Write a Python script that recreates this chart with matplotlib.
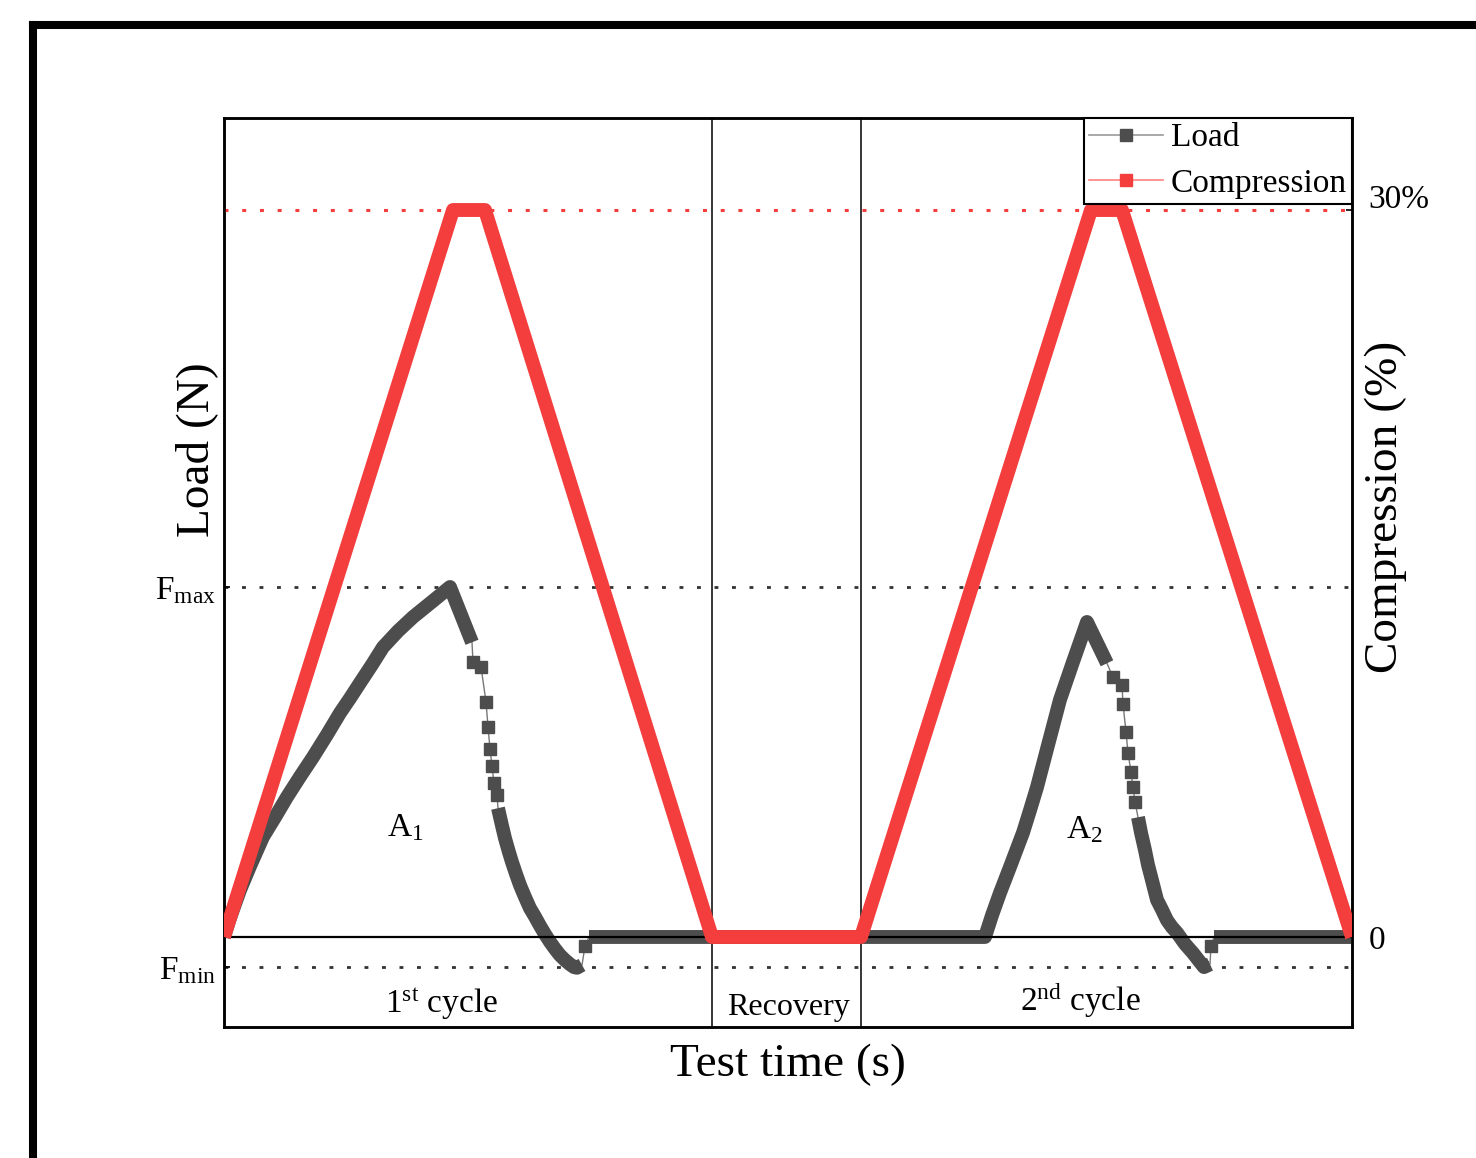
import numpy as np
import matplotlib.pyplot as plt
from matplotlib.lines import Line2D
from matplotlib.transforms import ScaledTranslation

plt.rcParams['font.family'] = ['Liberation Serif', 'DejaVu Serif']
plt.rcParams['mathtext.fontset'] = 'custom'
plt.rcParams['mathtext.rm'] = 'Liberation Serif'
plt.rcParams['mathtext.it'] = 'Liberation Serif:italic'

# compression programme (%), time in s
comp_t = [0.0, 22.9, 26.1, 48.8, 63.7, 86.7, 89.8, 112.8]
comp_pct = [0, 30, 30, 0, 0, 30, 30, 0]

# measured load (N), in pieces: D = densely sampled, S = sparse samples
rise1_t = [0.0, 0.6, 1.6, 2.6, 3.9, 5.1, 6.3, 7.6, 8.9, 10.3, 11.6, 12.6,
           13.6, 14.8, 15.9, 17.4, 18.9, 20.8, 22.6, 24.8]
rise1_n = [0.0, 2.7, 6.7, 10.1, 14.3, 17.1, 20.0, 22.9, 25.7, 28.9, 32.0,
           34.1, 36.3, 38.9, 41.4, 43.7, 45.7, 47.9, 50.0, 42.1]
drop1_t = [24.9, 25.7, 26.2, 26.4, 26.6, 26.8, 27.0, 27.3]
drop1_n = [39.3, 38.6, 33.6, 30.0, 26.9, 24.4, 22.0, 20.3]
tail1_t = [27.4, 27.8, 28.1, 28.5, 28.8, 29.2, 29.6, 30.1, 30.6, 31.1, 31.6,
           32.1, 32.6, 33.1, 33.6, 34.1, 34.6, 35.0, 35.3, 35.8]
tail1_n = [18.4, 15.9, 14.1, 12.1, 10.7, 9.0, 7.4, 5.7, 4.1, 2.9, 1.6,
           0.4, -0.7, -1.7, -2.6, -3.3, -3.9, -4.3, -4.4, -4.0]
step1_t = [36.1]
step1_n = [-1.3]
rise2_t = [36.5, 76.1, 76.8, 77.6, 78.6, 79.9, 80.6, 81.3, 82.4, 83.6, 84.9,
           86.3, 88.3]
rise2_n = [0.0, 0.0, 3.1, 6.3, 10.0, 14.9, 18.1, 21.4, 27.4, 33.9, 39.3,
           45.0, 39.1]
drop2_t = [88.9, 89.8, 89.9, 90.2, 90.4, 90.7, 90.9, 91.1]
drop2_n = [37.1, 36.0, 33.3, 29.3, 26.3, 23.6, 21.4, 19.3]
tail2_t = [91.4, 91.7, 92.1, 92.4, 92.8, 93.3, 93.8, 94.3, 94.8, 95.3, 96.1,
           96.9, 97.5, 98.0, 98.6]
tail2_n = [17.1, 14.9, 12.4, 10.3, 8.1, 5.3, 3.9, 2.4, 1.4, 0.6, -1.0,
           -2.3, -3.4, -4.3, -3.9]
step2_t = [98.7]
step2_n = [-1.3]
flat2_t = [99.0, 112.8]
flat2_n = [0.0, 0.0]

load_pieces = [
    (rise1_t, rise1_n, 'D'), (drop1_t, drop1_n, 'S'),
    (tail1_t, tail1_n, 'D'), (step1_t, step1_n, 'S'),
    (rise2_t, rise2_n, 'D'), (drop2_t, drop2_n, 'S'),
    (tail2_t, tail2_n, 'D'), (step2_t, step2_n, 'S'),
    (flat2_t, flat2_n, 'D'),
]

f_max = 50.0
f_min = -4.3
recovery = [48.8, 63.7]

red = '#f43e3e'
gray = '#4d4d4d'

fig = plt.figure(figsize=(14.76, 11.58), dpi=100)
ax = fig.add_axes([224 / 1476, 1 - 1027 / 1158, 1128 / 1476, 909 / 1158])
ax2 = ax.twinx()

ax.set_xlim(0, 112.8)
ax.set_ylim(-12.86, 117.0)
ax2.set_ylim(-3.714, 33.797)

# load curve: thin connecting line, thick where samples are dense
all_t = np.concatenate([p[0] for p in load_pieces])
all_n = np.concatenate([p[1] for p in load_pieces])
ax.plot(all_t, all_n, color='#777777', lw=1.0, zorder=2)
for pt, pn, kind in load_pieces:
    if kind == 'D':
        ax.plot(pt, pn, color=gray, lw=10, solid_capstyle='butt',
                solid_joinstyle='round', zorder=3)
    else:
        ax.plot(pt, pn, 's', color=gray, ms=8.5, zorder=3)

# reference lines
ax.axhline(0, color='black', lw=1.6, zorder=4)
ax.axhline(f_max, color='#333333', lw=2, dashes=(1.4, 4.9), zorder=1)
ax.axhline(f_min, color='#333333', lw=2, dashes=(1.4, 4.9), zorder=1)
for x in recovery:
    ax.axvline(x, color='black', lw=1.1, zorder=1)

# compression programme
ax2.plot(comp_t, comp_pct, color=red, lw=10, solid_joinstyle='round',
         solid_capstyle='butt', zorder=3)
ax2.axhline(30, color=red, lw=2.2, dashes=(1.3, 4.5), zorder=1)

# ticks
ax.set_xticks([])
ax.set_yticks([f_max, f_min])
ax.set_yticklabels([r'$\mathrm{F_{max}}$', r'$\mathrm{F_{min}}$'])
ax.tick_params(axis='y', direction='in', length=4, width=1.2, pad=6,
               labelsize=24)
ax2.set_yticks([0, 30])
ax2.set_yticklabels(['0', '30%'])
ax2.tick_params(axis='y', direction='in', length=4, width=1.2, pad=12,
                labelsize=24)
lab30 = ax2.get_yticklabels()[1]
lab30.set_va('bottom')
lab30.set_transform(lab30.get_transform()
                    + ScaledTranslation(0, -0.05, fig.dpi_scale_trans))
for a in (ax, ax2):
    for s in a.spines.values():
        s.set_linewidth(1.8)

# annotations
ax.text(16.3, 14.4, r'$\mathrm{A_1}$', fontsize=24, ha='left', va='baseline')
ax.text(84.2, 14.1, r'$\mathrm{A_2}$', fontsize=24, ha='left', va='baseline')
ax.text(16.1, -10.8, r'$\mathrm{1^{st}}$ cycle', fontsize=24, ha='left',
        va='baseline')
ax.text(56.4, -11.1, 'Recovery', fontsize=23, ha='center', va='baseline')
ax.text(79.6, -10.6, r'$\mathrm{2^{nd}}$ cycle', fontsize=24, ha='left',
        va='baseline')

fig.text(197 / 1476, 1 - 450 / 1158, 'Load (N)', fontsize=34, rotation=90,
         ha='center', va='center')
fig.text(1386 / 1476, 1 - 507 / 1158, 'Compression (%)', fontsize=34,
         rotation=90, ha='center', va='center')
fig.text(788 / 1476, 1 - 1065 / 1158, 'Test time (s)', fontsize=34,
         ha='center', va='center')

# legend
handles = [
    Line2D([], [], color='#999999', lw=1.2, marker='s', ms=8,
           markerfacecolor=gray, markeredgecolor=gray),
    Line2D([], [], color='#ff8080', lw=1.2, marker='s', ms=8,
           markerfacecolor=red, markeredgecolor=red),
]
leg = ax2.legend(handles, ['Load', 'Compression'], loc='upper right',
                 bbox_to_anchor=(1, 1), borderaxespad=0, fontsize=24,
                 fancybox=False, edgecolor='black', framealpha=1,
                 handlelength=2.2, handletextpad=0.25, borderpad=0.15,
                 labelspacing=0.45)
leg.get_frame().set_linewidth(1.5)
leg.set_zorder(10)

# outer frame of the figure panel
x0 = 33 / 1476
y0 = 1 - 25 / 1158
fig.add_artist(Line2D([x0, x0], [-0.01, y0], color='black', lw=5.8,
                      transform=fig.transFigure, solid_capstyle='projecting'))
fig.add_artist(Line2D([x0, 1.01], [y0, y0], color='black', lw=5.8,
                      transform=fig.transFigure, solid_capstyle='projecting'))

fig.savefig('out.png', dpi=100)
